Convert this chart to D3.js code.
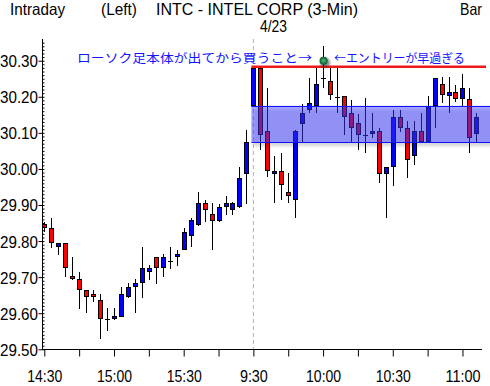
<!DOCTYPE html>
<html>
<head>
<meta charset="utf-8">
<script src="https://cdn.jsdelivr.net/npm/d3@7"></script>
<style>
  body { margin: 0; background: #fff; }
  svg { display: block; }
  .lbl { font-family: "Liberation Sans", Arial, sans-serif; font-size: 16.5px; fill: #000; }
  .note { font-family: "Noto Sans CJK JP", sans-serif; font-size: 12.5px; fill: #1414ff; }
</style>
</head>
<body>
<script>
// 3-minute bars, previous afternoon then the 4/23 morning
const times = [
  "14:30","14:33","14:36","14:39","14:42","14:45","14:48","14:51","14:54","14:57",
  "15:00","15:03","15:06","15:09","15:12","15:15","15:18","15:21","15:24","15:27",
  "15:30","15:33","15:36","15:39","15:42","15:45","15:48","15:51","15:54","15:57",
  "9:30","9:33","9:36","9:39","9:42","9:45","9:48","9:51","9:54","9:57",
  "10:00","10:03","10:06","10:09","10:12","10:15","10:18","10:21","10:24","10:27",
  "10:30","10:33","10:36","10:39","10:42","10:45","10:48","10:51","10:54","10:57",
  "11:00","11:03","11:06"
];
const opens = [
  29.847,29.836,29.786,29.794,29.702,29.694,29.664,29.653,29.634,29.584,
  29.585,29.592,29.646,29.674,29.686,29.715,29.755,29.726,29.744,29.757,
  29.777,29.816,29.847,29.905,29.874,29.857,29.895,29.888,29.895,29.988,
  30.175,30.279,30.105,29.988,29.994,29.935,29.916,30.126,30.165,30.175,
  30.251,30.242,30.200,30.200,30.154,30.125,30.094,30.097,30.105,29.988,
  30.006,30.143,30.113,30.037,30.105,30.076,30.175,30.233,30.204,30.212,
  30.196,30.193,30.097
];
const highs = [
  29.854,29.863,29.795,29.795,29.756,29.714,29.665,29.665,29.653,29.615,
  29.615,29.672,29.683,29.694,29.783,29.734,29.755,29.764,29.783,29.775,
  29.835,29.863,29.936,29.914,29.905,29.903,29.925,29.909,30.006,30.108,
  30.279,30.279,30.224,30.036,30.043,29.990,30.108,30.179,30.251,30.279,
  30.341,30.279,30.279,30.200,30.191,30.152,30.196,30.154,30.113,30.004,
  30.163,30.163,30.133,30.133,30.154,30.202,30.251,30.256,30.256,30.233,
  30.263,30.224,30.154
];
const lows = [
  29.824,29.782,29.761,29.700,29.692,29.613,29.602,29.632,29.529,29.552,
  29.581,29.590,29.641,29.602,29.643,29.693,29.682,29.701,29.722,29.732,
  29.775,29.783,29.843,29.854,29.775,29.854,29.872,29.872,29.893,29.903,
  30.175,30.052,29.978,29.905,29.914,29.905,29.863,30.076,30.154,30.154,
  30.224,30.191,30.154,30.094,30.076,30.052,30.043,30.085,29.962,29.863,
  29.953,30.103,29.974,30.011,30.076,30.076,30.113,30.184,30.154,30.186,
  30.172,30.043,30.076
];
const closes = [
  29.837,29.797,29.794,29.726,29.696,29.666,29.647,29.646,29.586,29.584,
  29.592,29.653,29.672,29.683,29.725,29.725,29.726,29.755,29.744,29.764,
  29.824,29.856,29.905,29.888,29.858,29.894,29.905,29.905,29.974,30.074,
  30.279,30.096,29.997,29.994,29.957,29.926,30.105,30.154,30.182,30.233,
  30.251,30.205,30.200,30.145,30.114,30.096,30.094,30.105,29.988,30.004,
  30.143,30.115,30.027,30.105,30.076,30.174,30.251,30.205,30.212,30.196,
  30.223,30.088,30.143
];

const yTicks = [29.5, 29.6, 29.7, 29.8, 29.9, 30.0, 30.1, 30.2, 30.3];
const xTickLabels = ["14:30", "15:00", "15:30", "9:30", "10:00", "10:30", "11:00"];
const sessionStart = "9:30";

// annotations
const gapTop = 30.175, gapBottom = 30.074;
const entryLine = 30.283;
const entryTime = "10:00", entryPrice = 30.30;
const noteLeft = "ローソク足本体が出てから買うこと→";
const noteRight = "←エントリーが早過ぎる";

const width = 490, height = 386;
const svg = d3.select("body").append("svg")
  .attr("width", width).attr("height", height);

const defs = svg.append("defs");
defs.append("filter").attr("id", "shadow")
  .attr("x", "-5%").attr("y", "-20%").attr("width", "115%").attr("height", "160%")
  .append("feDropShadow")
  .attr("dx", 2).attr("dy", 4).attr("stdDeviation", 1.5)
  .attr("flood-color", "#000").attr("flood-opacity", 0.35);
defs.append("filter").attr("id", "glow")
  .append("feGaussianBlur").attr("stdDeviation", 1.2);
const grad = defs.append("radialGradient").attr("id", "star");
grad.append("stop").attr("offset", "0%").attr("stop-color", "#4fc078");
grad.append("stop").attr("offset", "100%").attr("stop-color", "#0a5a2c");

const x = d3.scalePoint().domain(times).range([44.3, 476.4]);
const y = d3.scaleLinear().domain([29.5, 30.3]).range([349.3, 60.7]);

const candles = times.map((t, i) => ({
  t, o: opens[i], h: highs[i], l: lows[i], c: closes[i]
}));

// header
const header = [
  { text: "Intraday", x: 10, y: 15, len: 55 },
  { text: "(Left)", x: 101, y: 15, len: 36 },
  { text: "INTC - INTEL CORP (3-Min)", x: 156, y: 15, len: 202 },
  { text: "Bar", x: 460, y: 15, len: 22 },
  { text: "4/23", x: 260, y: 31.5, len: 27 }
];
svg.selectAll(".hdr").data(header).enter().append("text")
  .attr("class", "lbl hdr")
  .attr("x", d => d.x).attr("y", d => d.y)
  .attr("textLength", d => d.len).attr("lengthAdjust", "spacingAndGlyphs")
  .text(d => d.text);

// session divider
svg.append("line")
  .attr("x1", x(sessionStart)).attr("x2", x(sessionStart))
  .attr("y1", 39).attr("y2", 349)
  .attr("stroke", "#b4b4b4").attr("stroke-dasharray", "4,3");

// entry level line
svg.append("line")
  .attr("x1", x(sessionStart) - 2).attr("x2", 486)
  .attr("y1", y(entryLine)).attr("y2", y(entryLine))
  .attr("stroke", "#ff8080").attr("stroke-width", 5).attr("opacity", 0.5)
  .attr("filter", "url(#glow)");
svg.append("line")
  .attr("x1", x(sessionStart) - 2).attr("x2", 486)
  .attr("y1", y(entryLine)).attr("y2", y(entryLine))
  .attr("stroke", "#f01818").attr("stroke-width", 2.5);

// candles
const cg = svg.append("g").attr("shape-rendering", "crispEdges");
const bar = cg.selectAll("g").data(candles).enter().append("g");
bar.append("line")
  .attr("x1", d => Math.round(x(d.t)) + 0.5).attr("x2", d => Math.round(x(d.t)) + 0.5)
  .attr("y1", d => y(d.h)).attr("y2", d => y(d.l))
  .attr("stroke", "#000");
bar.filter(d => d.o !== d.c).append("rect")
  .attr("x", d => Math.round(x(d.t)) - 1.5)
  .attr("width", 4)
  .attr("y", d => y(Math.max(d.o, d.c)))
  .attr("height", d => Math.max(1, y(Math.min(d.o, d.c)) - y(Math.max(d.o, d.c))))
  .attr("fill", d => d.c > d.o ? "#0000ff" : "#ff0000")
  .attr("stroke", "#000");
bar.filter(d => d.o === d.c).append("line")
  .attr("x1", d => Math.round(x(d.t)) - 2).attr("x2", d => Math.round(x(d.t)) + 3)
  .attr("y1", d => Math.round(y(d.o)) + 0.5).attr("y2", d => Math.round(y(d.o)) + 0.5)
  .attr("stroke", "#000");

// opening gap zone
const gx = x(sessionStart) - 2;
svg.append("rect")
  .attr("x", gx).attr("width", 490 - gx)
  .attr("y", y(gapTop)).attr("height", y(gapBottom) - y(gapTop))
  .attr("fill", "#3030ff").attr("fill-opacity", 0.45)
  .attr("filter", "url(#shadow)");
[gapTop, gapBottom].forEach(v => {
  svg.append("line")
    .attr("x1", gx).attr("x2", 490)
    .attr("y1", Math.round(y(v)) + 0.5).attr("y2", Math.round(y(v)) + 0.5)
    .attr("stroke", "#1010ff");
});

// entry marker
svg.append("circle")
  .attr("cx", x(entryTime) + 2).attr("cy", y(entryPrice) + 2).attr("r", 5)
  .attr("fill", "#333").attr("opacity", 0.55).attr("filter", "url(#glow)");
svg.append("circle")
  .attr("cx", x(entryTime) + 0.5).attr("cy", y(entryPrice)).attr("r", 4)
  .attr("fill", "url(#star)");

// notes
svg.append("text").attr("class", "note")
  .attr("x", 77).attr("y", 62.5)
  .attr("textLength", 235).attr("lengthAdjust", "spacingAndGlyphs")
  .text(noteLeft);
svg.append("text").attr("class", "note")
  .attr("x", 334).attr("y", 62.5)
  .attr("textLength", 131).attr("lengthAdjust", "spacingAndGlyphs")
  .text(noteRight);

// y axis
const yAxisG = svg.append("g").attr("transform", "translate(42.5,0)");
yAxisG.call(d3.axisLeft(y).tickValues(yTicks).tickSize(4).tickFormat(d3.format(".2f")));
yAxisG.select(".domain").remove();
yAxisG.attr("font-family", null).attr("font-size", null);
yAxisG.selectAll("text")
  .attr("class", "lbl").attr("x", -4.5).attr("dy", "0.36em")
  .attr("textLength", 38).attr("lengthAdjust", "spacingAndGlyphs");

const minor = svg.append("g").attr("transform", "translate(42.5,0)");
minor.call(d3.axisRight(y)
  .tickValues(d3.range(0, 86).map(k => 29.5 + k * 0.01))
  .tickSize(2).tickFormat(""));
minor.select(".domain").remove();

svg.append("line")
  .attr("x1", 42.5).attr("x2", 42.5).attr("y1", 39).attr("y2", 349.5)
  .attr("stroke", "#000");

// x axis
const xAxisG = svg.append("g").attr("transform", "translate(0,349.5)");
xAxisG.call(d3.axisBottom(x)
  .tickValues(times.filter((d, i) => i % 5 === 0))
  .tickSize(7)
  .tickFormat(d => xTickLabels.includes(d) ? d : ""));
xAxisG.select(".domain").remove();
xAxisG.attr("font-family", null).attr("font-size", null);
xAxisG.selectAll("text")
  .attr("class", "lbl").attr("y", 32).attr("dy", 0)
  .attr("textLength", d => d.length * 7)
  .attr("lengthAdjust", "spacingAndGlyphs");
xAxisG.selectAll("text").filter(d => !xTickLabels.includes(d)).remove();

svg.append("line")
  .attr("x1", 42).attr("x2", 482).attr("y1", 349.5).attr("y2", 349.5)
  .attr("stroke", "#000");
</script>
</body>
</html>
